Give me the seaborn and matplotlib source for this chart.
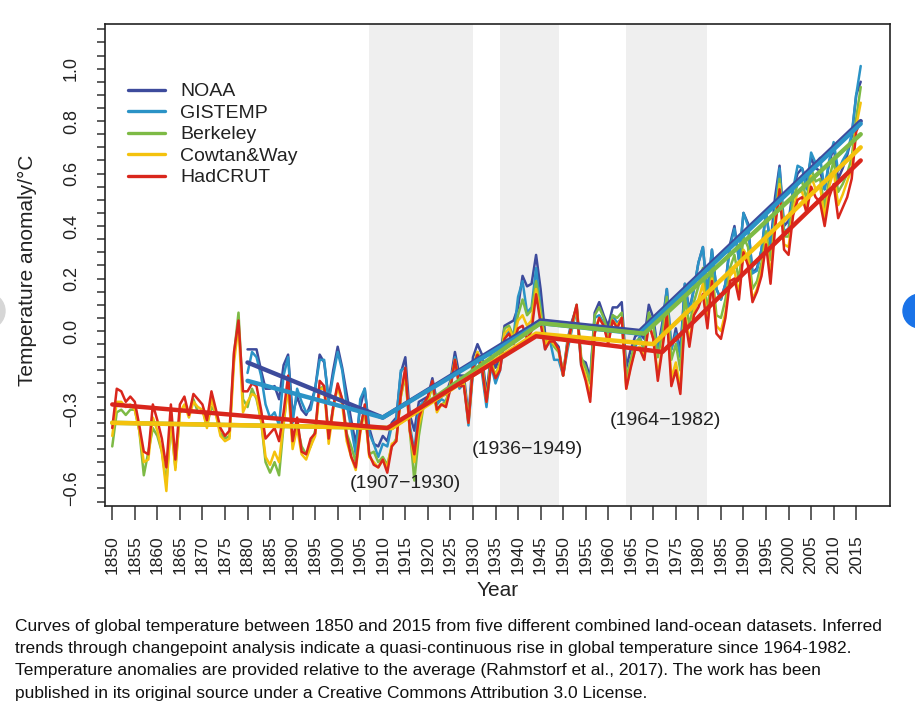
import numpy as np
import pandas as pd
import matplotlib
matplotlib.use("Agg")
import matplotlib.pyplot as plt
from matplotlib.patches import Circle
import seaborn as sns

# ---- data (annual anomalies, degC) ----
years_full = list(range(1850, 2017))
years_modern = list(range(1880, 2017))

hadcrut = [
    -0.37, -0.22, -0.23, -0.27, -0.25, -0.27, -0.36, -0.46, -0.47, -0.28,
    -0.34, -0.41, -0.52, -0.28, -0.49, -0.28, -0.25, -0.32, -0.24, -0.26,
    -0.28, -0.34, -0.23, -0.30, -0.37, -0.40, -0.38, -0.08, 0.04, -0.23,
    -0.23, -0.20, -0.21, -0.30, -0.41, -0.39, -0.37, -0.42, -0.31, -0.17,
    -0.42, -0.33, -0.46, -0.47, -0.41, -0.39, -0.19, -0.21, -0.41, -0.29,
    -0.20, -0.26, -0.40, -0.48, -0.52, -0.38, -0.28, -0.47, -0.51, -0.52,
    -0.49, -0.54, -0.44, -0.42, -0.24, -0.14, -0.38, -0.47, -0.33, -0.28,
    -0.25, -0.19, -0.30, -0.28, -0.29, -0.22, -0.11, -0.21, -0.21, -0.35,
    -0.14, -0.09, -0.14, -0.27, -0.13, -0.18, -0.15, -0.03, -0.01, -0.05,
    0.01, 0.02, -0.03, 0.00, 0.14, 0.03, -0.07, -0.04, -0.04, -0.07,
    -0.17, -0.05, 0.03, 0.10, -0.13, -0.19, -0.27, -0.01, 0.05, 0.02,
    -0.05, 0.04, 0.01, 0.05, -0.22, -0.14, -0.07, -0.07, -0.11, 0.03,
    -0.03, -0.19, -0.07, 0.06, -0.21, -0.15, -0.24, 0.05, -0.06, 0.06,
    0.09, 0.14, 0.01, 0.19, -0.01, -0.03, 0.05, 0.19, 0.20, 0.12,
    0.30, 0.25, 0.11, 0.15, 0.21, 0.33, 0.18, 0.39, 0.54, 0.31,
    0.29, 0.44, 0.50, 0.51, 0.45, 0.55, 0.51, 0.49, 0.40, 0.51,
    0.56, 0.43, 0.47, 0.51, 0.58, 0.76, 0.80,
]

cowtan_way = [
    -0.40, -0.27, -0.27, -0.29, -0.28, -0.30, -0.38, -0.50, -0.49, -0.33,
    -0.38, -0.46, -0.61, -0.33, -0.53, -0.31, -0.28, -0.33, -0.27, -0.29,
    -0.30, -0.37, -0.26, -0.32, -0.40, -0.42, -0.41, -0.12, 0.02, -0.31,
    -0.27, -0.24, -0.25, -0.34, -0.48, -0.51, -0.46, -0.50, -0.35, -0.21,
    -0.45, -0.37, -0.47, -0.49, -0.44, -0.40, -0.22, -0.22, -0.43, -0.30,
    -0.21, -0.28, -0.42, -0.48, -0.53, -0.39, -0.30, -0.48, -0.50, -0.52,
    -0.49, -0.52, -0.43, -0.42, -0.25, -0.16, -0.38, -0.50, -0.36, -0.29,
    -0.27, -0.20, -0.31, -0.28, -0.28, -0.21, -0.11, -0.21, -0.20, -0.35,
    -0.14, -0.08, -0.13, -0.27, -0.12, -0.17, -0.13, -0.01, 0.01, -0.03,
    0.04, 0.06, 0.02, 0.04, 0.16, 0.05, -0.05, -0.03, -0.05, -0.07,
    -0.17, -0.05, 0.02, 0.09, -0.12, -0.17, -0.25, 0.00, 0.05, 0.02,
    -0.04, 0.04, 0.02, 0.05, -0.22, -0.13, -0.07, -0.06, -0.10, 0.03,
    -0.03, -0.17, -0.06, 0.08, -0.18, -0.12, -0.22, 0.07, -0.04, 0.07,
    0.12, 0.18, 0.03, 0.20, 0.02, 0.00, 0.07, 0.21, 0.23, 0.14,
    0.31, 0.28, 0.12, 0.16, 0.23, 0.35, 0.21, 0.41, 0.56, 0.33,
    0.32, 0.46, 0.53, 0.53, 0.47, 0.59, 0.54, 0.55, 0.43, 0.55,
    0.61, 0.48, 0.52, 0.57, 0.62, 0.78, 0.87,
]

berkeley = [
    -0.44, -0.31, -0.30, -0.32, -0.30, -0.30, -0.38, -0.55, -0.46, -0.37,
    -0.40, -0.46, -0.58, -0.35, -0.52, -0.31, -0.30, -0.31, -0.26, -0.31,
    -0.30, -0.36, -0.29, -0.31, -0.39, -0.41, -0.40, -0.09, 0.07, -0.26,
    -0.29, -0.22, -0.26, -0.34, -0.50, -0.54, -0.50, -0.55, -0.36, -0.20,
    -0.42, -0.36, -0.44, -0.47, -0.44, -0.38, -0.22, -0.21, -0.40, -0.29,
    -0.21, -0.26, -0.39, -0.44, -0.50, -0.36, -0.30, -0.47, -0.46, -0.50,
    -0.48, -0.51, -0.44, -0.41, -0.25, -0.17, -0.38, -0.57, -0.40, -0.29,
    -0.27, -0.21, -0.30, -0.28, -0.27, -0.20, -0.11, -0.21, -0.20, -0.34,
    -0.14, -0.08, -0.12, -0.26, -0.11, -0.17, -0.12, 0.01, 0.02, -0.02,
    0.06, 0.12, 0.06, 0.08, 0.19, 0.08, -0.04, -0.03, -0.06, -0.08,
    -0.16, -0.04, 0.03, 0.10, -0.10, -0.14, -0.20, 0.06, 0.09, 0.05,
    -0.01, 0.06, 0.05, 0.07, -0.18, -0.11, -0.04, -0.03, -0.07, 0.07,
    0.02, -0.10, -0.01, 0.13, -0.11, -0.05, -0.15, 0.13, 0.02, 0.11,
    0.17, 0.24, 0.07, 0.24, 0.06, 0.05, 0.12, 0.24, 0.29, 0.19,
    0.36, 0.32, 0.16, 0.19, 0.26, 0.38, 0.27, 0.42, 0.58, 0.36,
    0.36, 0.50, 0.56, 0.57, 0.50, 0.62, 0.57, 0.58, 0.47, 0.58,
    0.65, 0.53, 0.56, 0.60, 0.66, 0.81, 0.93,
]

gistemp = [
    -0.16, -0.08, -0.10, -0.17, -0.28, -0.33, -0.31, -0.36, -0.17, -0.10,
    -0.35, -0.22, -0.27, -0.31, -0.30, -0.22, -0.11, -0.11, -0.27, -0.17,
    -0.08, -0.15, -0.28, -0.37, -0.47, -0.26, -0.22, -0.39, -0.43, -0.48,
    -0.43, -0.44, -0.36, -0.34, -0.15, -0.14, -0.36, -0.46, -0.29, -0.27,
    -0.27, -0.19, -0.28, -0.26, -0.27, -0.22, -0.10, -0.22, -0.20, -0.36,
    -0.16, -0.10, -0.16, -0.29, -0.13, -0.20, -0.15, -0.03, 0.00, -0.02,
    0.13, 0.19, 0.07, 0.09, 0.24, 0.09, -0.07, -0.03, -0.11, -0.11,
    -0.17, -0.07, 0.01, 0.08, -0.13, -0.14, -0.19, 0.05, 0.06, 0.03,
    -0.03, 0.06, 0.03, 0.05, -0.20, -0.11, -0.06, -0.02, -0.08, 0.05,
    0.03, -0.08, 0.01, 0.16, -0.07, -0.01, -0.10, 0.18, 0.07, 0.16,
    0.26, 0.32, 0.14, 0.31, 0.16, 0.12, 0.18, 0.32, 0.39, 0.27,
    0.45, 0.40, 0.22, 0.23, 0.31, 0.45, 0.33, 0.46, 0.62, 0.38,
    0.39, 0.54, 0.63, 0.62, 0.54, 0.68, 0.64, 0.66, 0.54, 0.65,
    0.72, 0.61, 0.65, 0.68, 0.75, 0.90, 1.01,
]

noaa = [
    -0.07, -0.07, -0.07, -0.15, -0.22, -0.22, -0.21, -0.26, -0.13, -0.09,
    -0.32, -0.25, -0.30, -0.32, -0.28, -0.22, -0.09, -0.12, -0.26, -0.15,
    -0.06, -0.14, -0.24, -0.34, -0.43, -0.29, -0.22, -0.37, -0.43, -0.44,
    -0.40, -0.42, -0.35, -0.33, -0.16, -0.10, -0.32, -0.38, -0.27, -0.26,
    -0.25, -0.18, -0.27, -0.25, -0.24, -0.19, -0.08, -0.17, -0.17, -0.33,
    -0.10, -0.05, -0.09, -0.24, -0.09, -0.14, -0.10, 0.02, 0.03, 0.04,
    0.09, 0.21, 0.17, 0.18, 0.29, 0.16, -0.01, -0.03, -0.04, -0.06,
    -0.17, -0.03, 0.04, 0.09, -0.11, -0.12, -0.18, 0.07, 0.11, 0.06,
    0.02, 0.09, 0.09, 0.11, -0.14, -0.07, -0.02, -0.01, -0.03, 0.10,
    0.05, -0.07, 0.03, 0.16, -0.07, 0.01, -0.08, 0.18, 0.08, 0.16,
    0.26, 0.32, 0.14, 0.31, 0.16, 0.12, 0.18, 0.33, 0.40, 0.27,
    0.45, 0.41, 0.22, 0.24, 0.31, 0.45, 0.33, 0.51, 0.63, 0.40,
    0.42, 0.54, 0.60, 0.62, 0.57, 0.66, 0.62, 0.61, 0.54, 0.64,
    0.70, 0.58, 0.62, 0.67, 0.74, 0.90, 0.95,
]

# changepoint trend lines: breakpoint years and fitted values
noaa_trend_years = [1880, 1910, 1945, 1967, 2016]
noaa_trend = [-0.12, -0.33, 0.04, 0.00, 0.80]
gistemp_trend_years = [1880, 1910, 1945, 1967, 2016]
gistemp_trend = [-0.19, -0.33, 0.03, -0.01, 0.79]
berkeley_trend_years = [1850, 1912, 1945, 1968, 2016]
berkeley_trend = [-0.35, -0.37, 0.03, -0.01, 0.75]
cowtan_trend_years = [1850, 1912, 1944, 1970, 2016]
cowtan_trend = [-0.35, -0.37, -0.01, -0.05, 0.70]
hadcrut_trend_years = [1850, 1911, 1944, 1972, 2016]
hadcrut_trend = [-0.28, -0.37, -0.02, -0.08, 0.65]

datasets = ["NOAA", "GISTEMP", "Berkeley", "Cowtan&Way", "HadCRUT"]
colors = ["#3d4b9c", "#2b93c6", "#7dba45", "#f4c20d", "#d9261c"]

periods = [(1907, 1930), (1936, 1949), (1964, 1982)]
period_label_pos = [(1915, -0.58), (1942, -0.45), (1972.8, -0.343)]

y_labelled = [-0.6, -0.3, 0.0, 0.2, 0.4, 0.6, 0.8, 1.0]

caption = (
    "Curves of global temperature between 1850 and 2015 from five different combined land-ocean datasets. Inferred\n"
    "trends through changepoint analysis indicate a quasi-continuous rise in global temperature since 1964-1982.\n"
    "Temperature anomalies are provided relative to the average (Rahmstorf et al., 2017). The work has been\n"
    "published in its original source under a Creative Commons Attribution 3.0 License."
)

# ---- tidy frames ----
raw = pd.concat([
    pd.DataFrame({"Year": years_modern, "Anomaly": noaa, "Dataset": "NOAA"}),
    pd.DataFrame({"Year": years_modern, "Anomaly": gistemp, "Dataset": "GISTEMP"}),
    pd.DataFrame({"Year": years_full, "Anomaly": berkeley, "Dataset": "Berkeley"}),
    pd.DataFrame({"Year": years_full, "Anomaly": cowtan_way, "Dataset": "Cowtan&Way"}),
    pd.DataFrame({"Year": years_full, "Anomaly": hadcrut, "Dataset": "HadCRUT"}),
], ignore_index=True)

trend = pd.concat([
    pd.DataFrame({"Year": noaa_trend_years, "Anomaly": noaa_trend, "Dataset": "NOAA"}),
    pd.DataFrame({"Year": gistemp_trend_years, "Anomaly": gistemp_trend, "Dataset": "GISTEMP"}),
    pd.DataFrame({"Year": berkeley_trend_years, "Anomaly": berkeley_trend, "Dataset": "Berkeley"}),
    pd.DataFrame({"Year": cowtan_trend_years, "Anomaly": cowtan_trend, "Dataset": "Cowtan&Way"}),
    pd.DataFrame({"Year": hadcrut_trend_years, "Anomaly": hadcrut_trend, "Dataset": "HadCRUT"}),
], ignore_index=True)

sns.set_theme(style="white")
plt.rcParams["font.family"] = ["Liberation Sans", "DejaVu Sans"]
plt.rcParams["axes.unicode_minus"] = True

fig = plt.figure(figsize=(9.15, 7.17), dpi=100)
ax = fig.add_axes([0.1148, 0.2943, 0.8579, 0.6722])

for start, end in periods:
    ax.axvspan(start, end, color="#efefef", lw=0, zorder=0)

palette = dict(zip(datasets, colors))
sns.lineplot(data=raw, x="Year", y="Anomaly", hue="Dataset", hue_order=datasets,
             palette=palette, linewidth=1.8, estimator=None, errorbar=None,
             sort=True, ax=ax)
sns.lineplot(data=trend, x="Year", y="Anomaly", hue="Dataset", hue_order=datasets,
             palette=palette, linewidth=3.2, estimator=None, errorbar=None,
             sort=True, legend=False, ax=ax)

for (start, end), (lx, ly) in zip(periods, period_label_pos):
    ax.text(lx, ly, f"({start}\u2212{end})", ha="center", va="center",
            fontsize=14, color="#222222")

handles, labels = ax.get_legend_handles_labels()
for h in handles:
    h.set_linewidth(2.4)
ax.legend(handles=handles[-5:], labels=labels[-5:], loc="upper left",
          bbox_to_anchor=(0.029, 0.878), frameon=False, fontsize=14,
          handlelength=1.9, handletextpad=0.8, labelspacing=0.2,
          borderpad=0, borderaxespad=0, labelcolor="#222222")

ax.set_xlim(1848.4, 2022.5)
ax.set_ylim(-0.667, 1.17)
ax.set_xticks(list(range(1850, 2016, 5)))
yt = np.round(np.arange(-0.65, 1.151, 0.05), 2)
ax.set_yticks(yt)
ax.set_yticklabels([f"{v:.1f}".replace("-", "\u2212") if any(abs(v - l) < 1e-6 for l in y_labelled) else "" for v in yt])

ax.tick_params(axis="x", labelrotation=90, labelsize=12.5, length=10, width=1.1,
               direction="out", pad=11, color="#333333", labelcolor="#222222", bottom=True)
ax.tick_params(axis="y", labelrotation=90, labelsize=13, length=6, width=1.1,
               direction="out", pad=12, color="#333333", labelcolor="#222222", left=True)
for lbl in ax.get_yticklabels():
    lbl.set_va("center")

for spine in ax.spines.values():
    spine.set_visible(True)
    spine.set_color("#222222")
    spine.set_linewidth(1.2)

ax.set_xlabel("Year", fontsize=15, color="#222222")
ax.set_ylabel("Temperature anomaly/\u00b0C", fontsize=15, color="#222222")
ax.xaxis.set_label_coords(0.5, -0.155)
ax.yaxis.set_label_coords(-0.087, 0.49)

fig.text(0.016, 1 - 619 / 717, caption, ha="left", va="top", fontsize=12.5,
         linespacing=1.6, color="#111111")

# page artefacts at the screenshot edges
fig.patches.append(Circle((-0.13, 4.06), 0.18, transform=fig.dpi_scale_trans,
                          color="#d6d6d6", zorder=0))
fig.patches.append(Circle((9.20, 4.06), 0.17, transform=fig.dpi_scale_trans,
                          color="#1a73e8", zorder=0))

fig.savefig("out.png", dpi=100)
